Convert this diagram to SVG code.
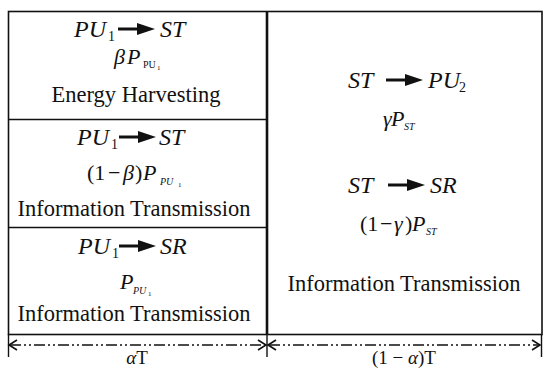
<svg xmlns="http://www.w3.org/2000/svg" width="550" height="369" viewBox="0 0 550 369">
<defs>
<style>
text{font-family:"Liberation Serif","DejaVu Serif",serif;fill:#111}
.m{font-size:22.5px;text-anchor:middle}
.i{font-style:italic}
.b{font-size:24px}
.n{font-size:22px}
.s{font-size:14px}
.xs{font-size:10px}
.xxs{font-size:7px}
.ln{stroke:#111;fill:none}
.dim{stroke:#111;stroke-width:1.4;stroke-dasharray:11 3 2 3 2 3;fill:none}
.ch{stroke:#111;stroke-width:1.6;fill:none}
</style>
</defs>
<rect width="550" height="369" fill="#fff"/>
<g id="frame">
<rect x="8.5" y="11.5" width="533.5" height="323" class="ln" stroke-width="1.6"/>
<line x1="267" y1="11" x2="267" y2="335" class="ln" stroke-width="2.6"/>
<line x1="8" y1="119.5" x2="267" y2="119.5" class="ln" stroke-width="1.6"/>
<line x1="8" y1="227.5" x2="267" y2="227.5" class="ln" stroke-width="1.6"/>
</g>
<g id="box1" font-family="Liberation Serif, DejaVu Serif, serif">
<text class="i b" x="74" y="37">PU</text><text class="s" x="108" y="41">1</text>
<line x1="118" y1="29" x2="140" y2="29" class="ln" stroke-width="3"/><polygon points="137,23 155,29 137,35" fill="#111"/>
<text class="i b" x="160" y="37">ST</text>
<text class="i n" x="114" y="64">β</text><text class="i n" x="127" y="64">P</text><text class="xs" x="143" y="68">PU</text><text class="xxs" x="157" y="70">1</text>
<text class="m" x="136" y="102">Energy Harvesting</text>
</g>
<g id="box2" font-family="Liberation Serif, DejaVu Serif, serif">
<text class="i b" x="77" y="145">PU</text><text class="s" x="111" y="149">1</text>
<line x1="119" y1="137" x2="141" y2="137" class="ln" stroke-width="3"/><polygon points="138,131 156,137 138,143" fill="#111"/>
<text class="i b" x="159" y="145">ST</text>
<text class="n" x="87" y="180">(1</text><text class="n" x="108" y="180">−</text><text class="i n" x="123" y="180">β</text><text class="n" x="135" y="180">)</text><text class="i n" x="143" y="180">P</text>
<text class="i xs" x="160" y="185">PU</text><text class="xxs" x="178" y="187">1</text>
<text class="m" x="134" y="216">Information Transmission</text>
</g>
<g id="box3" font-family="Liberation Serif, DejaVu Serif, serif">
<text class="i b" x="78" y="254">PU</text><text class="s" x="112" y="258">1</text>
<line x1="119" y1="246" x2="141" y2="246" class="ln" stroke-width="3"/><polygon points="138,240 156,246 138,252" fill="#111"/>
<text class="i b" x="160" y="254">SR</text>
<text class="i n" x="120" y="289">P</text><text class="i xs" x="133" y="294">PU</text><text class="xxs" x="148" y="296">1</text>
<text class="m" x="134" y="321">Information Transmission</text>
</g>
<g id="box4" font-family="Liberation Serif, DejaVu Serif, serif">
<text class="i b" x="348" y="88">ST</text>
<line x1="386" y1="80" x2="408" y2="80" class="ln" stroke-width="3"/><polygon points="405,74 423,80 405,86" fill="#111"/>
<text class="i b" x="428" y="88">PU</text><text class="s" x="459" y="92">2</text>
<text class="i n" x="383" y="126">γ</text><text class="i n" x="391" y="126">P</text><text class="i xs" x="404" y="130">ST</text>
<text class="i b" x="348" y="193">ST</text>
<line x1="388" y1="185" x2="410" y2="185" class="ln" stroke-width="3"/><polygon points="407,179 425,185 407,191" fill="#111"/>
<text class="i b" x="430" y="193">SR</text>
<text class="n" x="360" y="231">(1</text><text class="n" x="380" y="231">−</text><text class="i n" x="394" y="231">γ</text><text class="n" x="405" y="231">)</text><text class="i n" x="412" y="231">P</text>
<text class="i xs" x="426" y="235">ST</text>
<text class="m" x="404" y="291">Information Transmission</text>
</g>
<g id="connectors">
<line x1="8.5" y1="334" x2="8.5" y2="357" class="ln" stroke-width="1.4"/>
<line x1="267" y1="334" x2="267" y2="357" class="ln" stroke-width="1.4"/>
<line x1="541.5" y1="334" x2="541.5" y2="357" class="ln" stroke-width="1.4"/>
<line x1="10" y1="345" x2="265" y2="345" class="dim"/>
<line x1="269" y1="345" x2="540" y2="345" class="dim"/>
<polyline points="17,340 9,345 17,350" class="ch"/>
<polyline points="258,340 266,345 258,350" class="ch"/>
<polyline points="276,340 268,345 276,350" class="ch"/>
<polyline points="532,340 540,345 532,350" class="ch"/>
</g>
<g id="labels" font-family="Liberation Serif, DejaVu Serif, serif">
<text style="font-size:19px;text-anchor:middle" x="137" y="364"><tspan class="i">α</tspan>T</text>
<text style="font-size:19px;text-anchor:middle" x="404" y="364">(1 − <tspan class="i">α</tspan>)T</text>
</g>
</svg>
